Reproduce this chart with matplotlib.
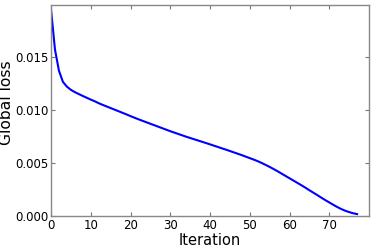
import matplotlib
matplotlib.use('Agg')
import matplotlib.pyplot as plt

iterations = list(range(78))
global_loss = [
    0.01950, 0.01570, 0.01370, 0.01265, 0.01220, 0.01190, 0.01168, 0.01150,
    0.01132, 0.01115, 0.01098, 0.01082, 0.01064, 0.01048, 0.01033, 0.01018,
    0.01003, 0.00988, 0.00973, 0.00958, 0.00942, 0.00927, 0.00912, 0.00898,
    0.00884, 0.00870, 0.00856, 0.00842, 0.00828, 0.00814, 0.00800, 0.00787,
    0.00774, 0.00761, 0.00748, 0.00736, 0.00724, 0.00712, 0.00700, 0.00688,
    0.00676, 0.00663, 0.00651, 0.00638, 0.00626, 0.00613, 0.00600, 0.00587,
    0.00574, 0.00560, 0.00546, 0.00532, 0.00517, 0.00500, 0.00482, 0.00463,
    0.00443, 0.00422, 0.00400, 0.00378, 0.00356, 0.00334, 0.00312, 0.00290,
    0.00267, 0.00243, 0.00220, 0.00197, 0.00173, 0.00150, 0.00128, 0.00106,
    0.00085, 0.00066, 0.00050, 0.00037, 0.00026, 0.00018,
]
x_ticks = [0, 10, 20, 30, 40, 50, 60, 70]
y_ticks = [0.000, 0.005, 0.010, 0.015]

fig = plt.figure(figsize=(3.77, 2.5), dpi=100)
ax = fig.add_axes([51 / 377, 34 / 250, 318 / 377, 211 / 250])
ax.plot(iterations, global_loss, color='#0000ff', linewidth=1.5)

ax.set_xlim(0, 80)
ax.set_ylim(0, 0.0199)
ax.set_xticks(x_ticks)
ax.set_yticks(y_ticks)
ax.set_yticklabels(['%.3f' % v for v in y_ticks])
ax.tick_params(direction='in', top=True, right=True, length=3, width=0.8,
               color='#777777', labelsize=8.5, pad=2)
for s in ax.spines.values():
    s.set_color('#888888')
    s.set_linewidth(1.0)

ax.set_xlabel('Iteration', fontsize=10.5, labelpad=1)
ax.set_ylabel('Global loss', fontsize=11.2)
# baseline of the rotated label sits at about x = 14 px
ax.yaxis.set_label_coords(-37 / 318, 0.535)

plt.savefig('out.png', dpi=100)
